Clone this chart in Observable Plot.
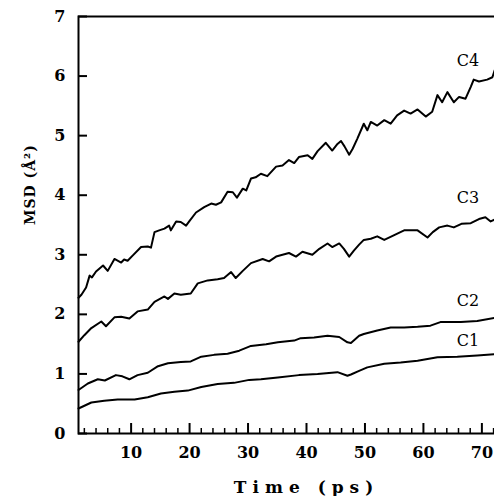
<!DOCTYPE html>
<html><head><meta charset="utf-8">
<script src="https://cdn.jsdelivr.net/npm/d3@7"></script>
<script src="https://cdn.jsdelivr.net/npm/@observablehq/plot@0.6"></script>
<style>
html,body{margin:0;padding:0;background:#fff;overflow:hidden;}
#chart svg{display:block;}
</style></head><body><div id="chart"></div>
<script>
// [time (ps), MSD (Å²)]
const c1 = [[1,0.42],[3.2,0.52],[5.4,0.55],[7.7,0.57],[10.6,0.57],[12.85,0.61],[15.1,0.67],[17.4,0.70],[19.7,0.72],[22,0.78],[24.8,0.83],[27.6,0.85],[30.2,0.90],[32.2,0.91],[35.1,0.94],[38.7,0.98],[41.9,1.00],[45.3,1.03],[47,0.97],[47.6,0.99],[49,1.05],[50.4,1.11],[53.3,1.17],[56.1,1.19],[59,1.22],[62.4,1.28],[65.8,1.29],[69.2,1.31],[72.2,1.33]];
const c2 = [[1,0.73],[2.6,0.84],[4.3,0.91],[5.5,0.89],[7.4,0.98],[8.5,0.96],[9.7,0.91],[11.1,0.98],[12.85,1.02],[14.6,1.13],[16.3,1.18],[18.5,1.20],[20.2,1.21],[22,1.29],[24.2,1.32],[26.5,1.34],[28.5,1.39],[30.5,1.47],[33.1,1.50],[35.1,1.53],[37.9,1.56],[39,1.60],[41.3,1.61],[43.6,1.64],[45.6,1.62],[47,1.53],[47.6,1.52],[49,1.64],[49.8,1.67],[52.1,1.73],[54.4,1.78],[56.7,1.78],[59,1.79],[61.2,1.81],[62.9,1.87],[66.4,1.87],[69.2,1.89],[72.2,1.94]];
const c3 = [[1,1.54],[2,1.65],[3.2,1.77],[4.9,1.88],[5.7,1.80],[7.15,1.95],[8.3,1.96],[9.7,1.93],[11.1,2.05],[12.85,2.08],[14,2.21],[15.7,2.30],[16.3,2.26],[17.4,2.35],[18.5,2.33],[20.2,2.35],[21.4,2.52],[23.1,2.57],[24.8,2.59],[25.9,2.61],[27.1,2.71],[27.9,2.61],[29.1,2.73],[30.5,2.86],[32.5,2.93],[33.6,2.89],[34.8,2.97],[37,3.03],[38.2,2.97],[39.3,3.05],[41,3.00],[42.2,3.10],[43.6,3.19],[44.4,3.13],[45.6,3.19],[46.4,3.10],[47.3,2.97],[48.1,3.07],[49,3.17],[49.8,3.25],[51,3.27],[52.1,3.31],[53.3,3.25],[55,3.33],[56.7,3.41],[59,3.41],[60.7,3.29],[61.6,3.38],[62.7,3.46],[64.1,3.49],[65.2,3.46],[66.5,3.52],[68.1,3.53],[69.5,3.60],[70.6,3.63],[71.5,3.56],[72.2,3.59]];
const c4 = [[1,2.28],[1.5,2.33],[2.3,2.45],[2.9,2.65],[3.3,2.62],[4,2.72],[5.2,2.82],[6,2.73],[7.15,2.93],[8.3,2.87],[8.8,2.92],[9.4,2.90],[10.3,2.99],[11.7,3.13],[12.85,3.14],[13.4,3.12],[14,3.38],[14.8,3.41],[15.7,3.44],[16.5,3.49],[16.8,3.41],[17.7,3.56],[18.5,3.55],[19.4,3.49],[20,3.57],[21.1,3.71],[22.5,3.80],[23.7,3.86],[24.5,3.84],[25.4,3.88],[26.5,4.06],[27.4,4.05],[28.1,3.96],[29.1,4.11],[29.7,4.08],[30.5,4.28],[31.3,4.30],[32.2,4.36],[33.3,4.32],[34.8,4.48],[35.9,4.50],[37,4.59],[37.9,4.54],[38.7,4.64],[40.2,4.67],[41,4.61],[41.9,4.74],[43.3,4.88],[44.4,4.75],[45.3,4.86],[45.9,4.91],[46.5,4.82],[47.3,4.68],[47.9,4.78],[48.7,4.95],[49.8,5.20],[50.4,5.09],[51,5.23],[52.1,5.17],[53.3,5.26],[54.4,5.20],[55.5,5.34],[56.7,5.42],[57.8,5.37],[59,5.44],[60.4,5.32],[61.5,5.40],[62.4,5.68],[63.2,5.56],[64.1,5.73],[65.2,5.56],[66.1,5.65],[67.2,5.62],[68.1,5.82],[68.6,5.94],[69.5,5.91],[70.9,5.94],[71.8,5.98],[72.2,6.10]];

const seriesNames = ["C1", "C2", "C3", "C4"];
const labelTime = [67.6, 67.6, 67.6, 67.6];
const labelMSD = [1.55, 2.23, 3.96, 6.26];
const xMajorTicks = [10, 20, 30, 40, 50, 60, 70];
const xMinorTicks = [2, 4, 6, 8, 12, 14, 16, 18, 22, 24, 26, 28, 32, 34, 36, 38, 42, 44, 46, 48, 52, 54, 56, 58, 62, 64, 66, 68, 72];
const yTicks = [0, 1, 2, 3, 4, 5, 6, 7];
const xTitle = "Time (ps)";
const yTitle = "MSD (Å²)";

const rows = [];
[c1, c2, c3, c4].forEach((s, i) => s.forEach(([t, v]) => rows.push({series: seriesNames[i], t, v})));
const labels = seriesNames.map((name, i) => ({name, t: labelTime[i], v: labelMSD[i]}));

const W = 494, H = 496, mT = 16, mL = 78, mR = -40, mB = 63;
const frameW = W - mR - mL, frameH = H - mB - mT;
const font = "DejaVu Serif";
const plot = Plot.plot({
  width: W, height: H,
  marginTop: mT, marginLeft: mL, marginRight: mR, marginBottom: mB,
  x: {domain: [1, 79]},
  y: {domain: [0, 7]},
  style: {fontFamily: font, background: "#fff", color: "#000"},
  marks: [
    Plot.line(rows, {x: "t", y: "v", z: "series", stroke: "#000", strokeWidth: 2}),
    Plot.frame({stroke: "#000", strokeWidth: 2}),
    Plot.ruleX(xMajorTicks, {x: d => d, insetTop: frameH - 10, stroke: "#000", strokeWidth: 2}),
    Plot.ruleX(xMinorTicks, {x: d => d, insetTop: frameH - 5, stroke: "#000", strokeWidth: 1.5}),
    Plot.ruleY(yTicks, {y: d => d, insetRight: frameW - 9, stroke: "#000", strokeWidth: 2}),
    Plot.axisX(xMajorTicks, {tickSize: 0, tickPadding: 13, tickFormat: d => String(d), fontSize: 16, fontWeight: "bold", label: null}),
    Plot.axisY(yTicks, {tickSize: 0, tickPadding: 13, tickFormat: d => String(d), fontSize: 16, fontWeight: "bold", label: null}),
    Plot.text(labels, {x: "t", y: "v", text: "name", fontSize: 16}),
    Plot.text([xTitle], {text: d => d, frameAnchor: "bottom", dy: 59, fontSize: 17, fontWeight: "bold"}),
    Plot.text([yTitle], {text: d => d, frameAnchor: "left", dx: -48, rotate: -90, fontSize: 14, fontWeight: "bold"})
  ]
});
document.getElementById("chart").append(plot);
d3.select(plot).selectAll("text").filter(function() { return this.textContent === xTitle; }).attr("letter-spacing", 6);
d3.select(plot).selectAll("text").filter(function() { return this.textContent === yTitle; }).attr("letter-spacing", 1);
</script></body></html>
